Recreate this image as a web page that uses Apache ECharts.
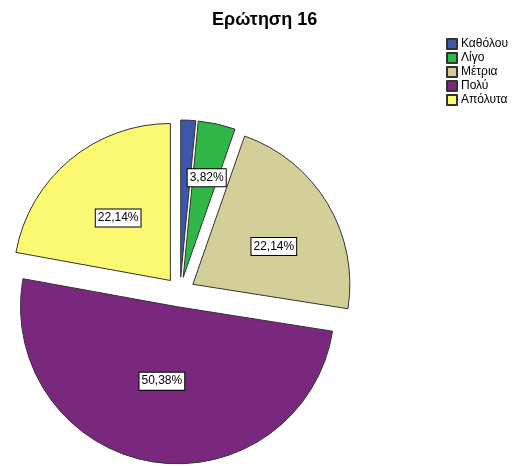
<!DOCTYPE html>
<html>
<head>
<meta charset="utf-8">
<script src="https://cdn.jsdelivr.net/npm/echarts@6/dist/echarts.min.js"></script>
<style>
html, body { margin: 0; padding: 0; background: #fff; }
#container { width: 523px; height: 466px; }
</style>
</head>
<body>
<div id="container"></div>
<script>
var categories = ['Καθόλου', 'Λίγο', 'Μέτρια', 'Πολύ', 'Απόλυτα'];
var percents = [1.53, 3.82, 22.14, 50.38, 22.14];
var colors = ['#3d57ab', '#2fb848', '#d4cf98', '#7a287e', '#fbf872'];
// small nudges so the labels sit where SPSS put them
var labelShift = [[0, 0], [6, -20], [11, 4], [-2, -6], [0, 0]];

var dom = document.getElementById('container');
var myChart = echarts.init(dom);

var data = categories.map(function (name, i) {
    var item = { name: name, value: percents[i], selected: true };
    if (i === 0) {
        item.label = { show: false };
    }
    return item;
});

var option = {
    animation: false,
    color: colors,
    title: {
        text: 'Ερώτηση 16',
        left: 207,
        top: 6,
        textStyle: {
            fontFamily: 'Liberation Sans, Arial, sans-serif',
            fontSize: 18,
            fontWeight: 'bold',
            color: '#000'
        }
    },
    legend: {
        orient: 'vertical',
        left: 441,
        top: 33,
        icon: 'rect',
        itemWidth: 10,
        itemHeight: 10,
        itemGap: 2,
        selectedMode: false,
        data: categories,
        textStyle: {
            fontFamily: 'Liberation Sans, Arial, sans-serif',
            fontSize: 12,
            color: '#000',
            padding: [0, 0, 0, -1]
        }
    },
    series: [
        {
            name: 'Ερώτηση 16',
            type: 'pie',
            center: [180, 292],
            radius: 157,
            startAngle: 90,
            clockwise: true,
            selectedMode: 'multiple',
            selectedOffset: 15,
            avoidLabelOverlap: false,
            itemStyle: {
                borderColor: '#333',
                borderWidth: 1
            },
            label: {
                show: true,
                position: 'inside',
                formatter: function (p) {
                    return p.value.toFixed(2).replace('.', ',') + '%';
                },
                fontFamily: 'Liberation Sans, Arial, sans-serif',
                fontSize: 12,
                color: '#000',
                backgroundColor: '#fff',
                borderColor: '#000',
                borderWidth: 1,
                padding: [3, 2, 2, 2]
            },
            labelLayout: function (params) {
                var s = labelShift[params.dataIndex];
                return { dx: s[0], dy: s[1] };
            },
            labelLine: { show: false },
            emphasis: { disabled: true },
            data: data
        }
    ]
};

myChart.setOption(option, true);
</script>
</body>
</html>
